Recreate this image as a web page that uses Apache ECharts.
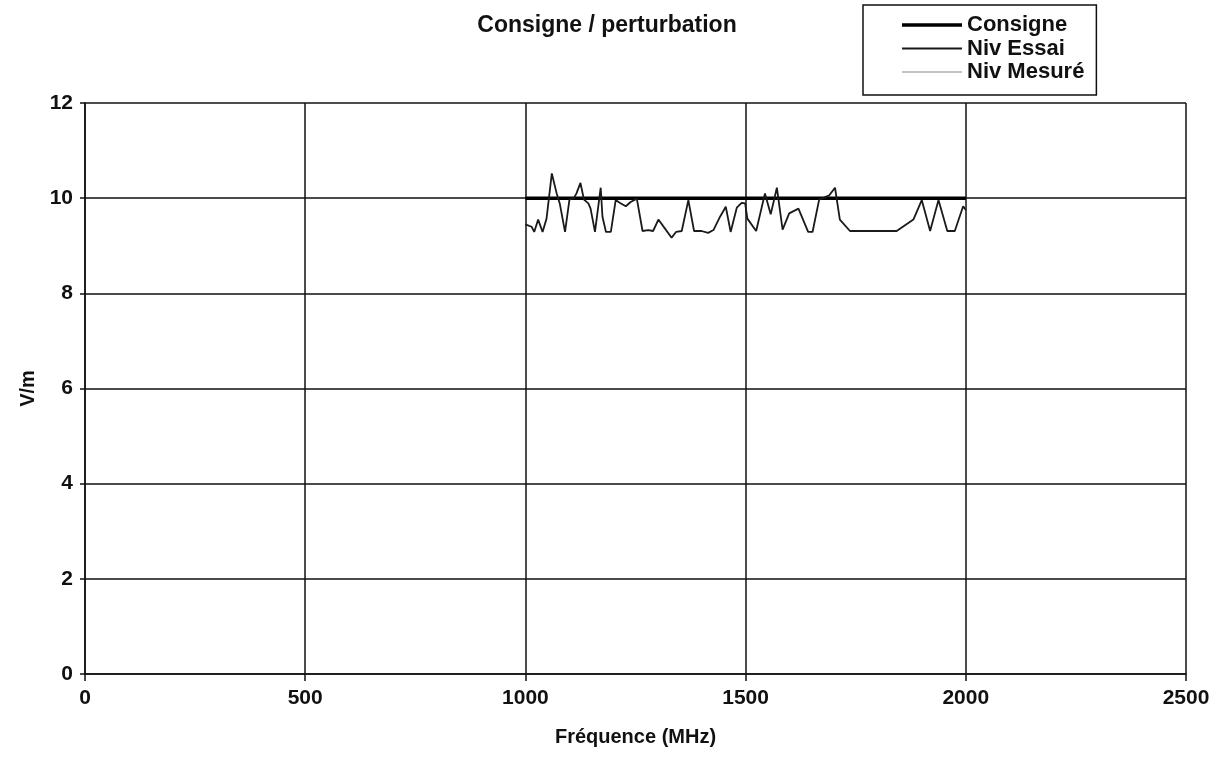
<!DOCTYPE html>
<html>
<head>
<meta charset="utf-8">
<script src="https://cdn.jsdelivr.net/npm/echarts@6/dist/echarts.min.js"></script>
<style>html,body{margin:0;padding:0;background:#fff}#c{width:1220px;height:767px}</style>
</head>
<body>
<div id="c"></div>
<script>
const xTicks = [0, 500, 1000, 1500, 2000, 2500];
const yTicks = [0, 2, 4, 6, 8, 10, 12];
const consigneFreq = [1000, 2000];
const consigneVal = [10, 10];
const essaiFreq = [1000,1014,1020,1029,1039,1048,1060,1071,1078,1090,1100,1110,1116,1125,1133,1143,1148,1158,1171,1175,1183,1194,1205,1215,1228,1239,1253,1266,1279,1290,1302,1317,1332,1342,1355,1370,1383,1400,1415,1427,1442,1455,1466,1480,1491,1499,1504,1524,1544,1557,1571,1584,1599,1620,1642,1652,1667,1690,1703,1714,1737,1843,1881,1900,1919,1938,1958,1975,1994,2000];
const essaiVal = [9.45,9.40,9.29,9.55,9.29,9.57,10.52,10.10,9.89,9.29,9.97,10.0,10.1,10.32,9.97,9.89,9.78,9.29,10.22,9.61,9.29,9.29,9.96,9.9,9.83,9.92,9.99,9.31,9.33,9.31,9.55,9.36,9.17,9.29,9.31,9.96,9.31,9.31,9.27,9.33,9.61,9.82,9.29,9.80,9.90,9.89,9.57,9.31,10.10,9.66,10.22,9.34,9.68,9.78,9.29,9.29,9.97,10.06,10.22,9.55,9.31,9.31,9.55,9.96,9.31,9.96,9.31,9.31,9.83,9.75];
const mesureFreq = [];
const mesureVal = [];

const zip = (a, b) => a.map((x, i) => [x, b[i]]);
const FONT = '"Liberation Sans", Arial, sans-serif';
// legend line icons: full 60x14 box (corner moveTo points) with a centred stripe
const stripe = (h) => 'path://M0,0L0,0M60,14L60,14M0,' + (7 - h / 2) + 'H60V' + (7 + h / 2) + 'H0Z';

const chart = echarts.init(document.getElementById('c'), null, {renderer: 'canvas'});
chart.setOption({
  animation: false,
  backgroundColor: '#fff',
  title: {
    text: 'Consigne / perturbation',
    left: 602, top: 9, textAlign: 'center',
    textStyle: {fontFamily: FONT, fontSize: 23, fontWeight: 'bold', color: '#111'}
  },
  legend: {
    orient: 'vertical',
    left: 863, top: 5,
    selectedMode: false,
    borderColor: '#111', borderWidth: 1.5, borderRadius: 0,
    padding: [9, 12, 12, 39],
    itemGap: 1.5,
    itemWidth: 60, itemHeight: 14,
    textStyle: {fontFamily: FONT, fontSize: 22, fontWeight: 'bold', color: '#111', lineHeight: 20},
    data: [
      {name: 'Consigne', icon: stripe(3.5), itemStyle: {color: '#000'}},
      {name: 'Niv Essai', icon: stripe(1.8), itemStyle: {color: '#1a1a1a'}},
      {name: 'Niv Mesuré', icon: stripe(1), itemStyle: {color: '#888'}}
    ]
  },
  grid: {left: 85, right: 34, top: 103, bottom: 93, containLabel: false},
  xAxis: {
    type: 'value', min: xTicks[0], max: xTicks[xTicks.length - 1], interval: 500,
    name: 'Fréquence (MHz)', nameLocation: 'middle', nameGap: 53,
    nameTextStyle: {fontFamily: FONT, fontSize: 20, fontWeight: 'bold', color: '#111'},
    axisLine: {lineStyle: {color: '#111', width: 1.5}},
    axisTick: {show: true, length: 7, lineStyle: {color: '#111', width: 1.5}},
    axisLabel: {fontFamily: FONT, fontSize: 21, fontWeight: 'bold', color: '#111', margin: 14,
      formatter: (v) => String(v)},
    splitLine: {show: true, lineStyle: {color: '#111', width: 1.5}}
  },
  yAxis: {
    type: 'value', min: yTicks[0], max: yTicks[yTicks.length - 1], interval: 2,
    name: 'V/m', nameLocation: 'middle', nameGap: 30, nameRotate: 90,
    nameTextStyle: {fontFamily: FONT, fontSize: 20, fontWeight: 'bold', color: '#111'},
    axisLine: {lineStyle: {color: '#111', width: 1.5}},
    axisTick: {show: true, length: 5, lineStyle: {color: '#111', width: 1.5}},
    axisLabel: {fontFamily: FONT, fontSize: 21, fontWeight: 'bold', color: '#111', margin: 12,
      formatter: (v) => String(v)},
    splitLine: {show: true, lineStyle: {color: '#111', width: 1.5}}
  },
  series: [
    {name: 'Consigne', type: 'line', data: zip(consigneFreq, consigneVal), symbol: 'none',
     lineStyle: {color: '#000', width: 3.5}, itemStyle: {color: '#000'}, z: 3},
    {name: 'Niv Essai', type: 'line', data: zip(essaiFreq, essaiVal), symbol: 'none',
     lineStyle: {color: '#1a1a1a', width: 1.8}, itemStyle: {color: '#1a1a1a'}, z: 4},
    {name: 'Niv Mesuré', type: 'line', data: zip(mesureFreq, mesureVal), symbol: 'none',
     lineStyle: {color: '#888', width: 1}, itemStyle: {color: '#888'}, z: 2}
  ]
});
</script>
</body>
</html>
